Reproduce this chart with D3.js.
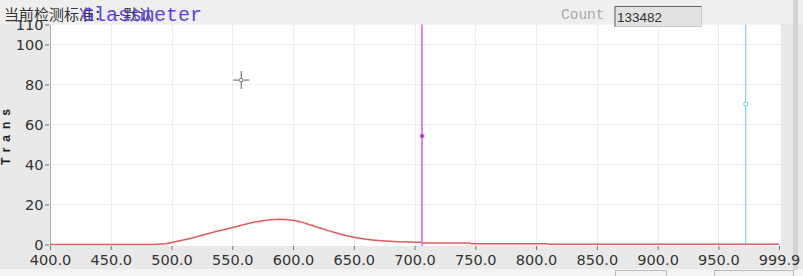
<!DOCTYPE html>
<html>
<head>
<meta charset="utf-8">
<script src="https://cdn.jsdelivr.net/npm/d3@7"></script>
<style>
  body { margin: 0; background: #e9e9e9; }
  svg { display: block; }
</style>
</head>
<body>
<script>
// spectrum: wavelength (nm) -> transmittance (%)
const wavelengths = [400, 480, 488, 495, 502, 510, 520, 535, 550, 565, 575, 582, 589, 596, 602, 610, 620, 631, 640, 650, 660, 667, 676, 686, 696, 705.5, 706.5, 745.5, 746.5, 809, 810, 999.9]
const trans = [0, 0, 0.1, 0.4, 1.2, 2.3, 3.8, 6.2, 8.5, 10.8, 11.9, 12.4, 12.6, 12.4, 11.9, 10.6, 8.6, 6.6, 5.0, 3.6, 2.6, 2.1, 1.7, 1.4, 1.2, 1.1, 0.7, 0.7, 0.4, 0.4, 0.15, 0.15]

const xTicks = [400, 450, 500, 550, 600, 650, 700, 750, 800, 850, 900, 950, 999.9]
const yTicks = [0, 20, 40, 60, 80, 100, 110]
const xGrid = [450, 500, 550, 600, 650, 700, 750, 800, 850, 900, 950]
const yGrid = [20, 40, 60, 80, 100]

// markers
const cursorPoint = {x: 557.4, y: 82.2}
const magentaMarker = {x: 706.1, y: 54.2}
const cyanMarker = {x: 972.5, y: 70.2}

const headerLabel = '当前检测标准：'
const headerValue = '默认'
const countValue = '133482'

const W = 803
const H = 276
const plot = {left: 50, right: 781, top: 24.5, bottom: 246}

const x = d3.scaleLinear().domain([400, 999.9]).range([50, 779])
const y = d3.scaleLinear().domain([0, 110]).range([244.5, 24.5])

const svg = d3.select('body').append('svg')
  .attr('width', W)
  .attr('height', H)

// window chrome
svg.append('rect').attr('width', W).attr('height', H).attr('fill', '#e9e9e9')
svg.append('rect').attr('width', W).attr('height', 24).attr('fill', '#efefef')
svg.append('rect').attr('x', 0).attr('y', 269).attr('width', W).attr('height', 7).attr('fill', '#f4f4f4')
svg.append('rect').attr('x', 793).attr('y', 0).attr('width', 5).attr('height', 270).attr('fill', '#d4d4d4')

// plot area
svg.append('rect')
  .attr('x', plot.left)
  .attr('y', plot.top)
  .attr('width', plot.right - plot.left)
  .attr('height', plot.bottom - plot.top)
  .attr('fill', '#fff')

const grid = svg.append('g').attr('class', 'grid')
grid.selectAll('.gx').data(xGrid).enter()
  .append('line')
  .attr('x1', d => Math.round(x(d)) + 0.5)
  .attr('x2', d => Math.round(x(d)) + 0.5)
  .attr('y1', plot.top)
  .attr('y2', plot.bottom)
  .attr('stroke', '#ececec')
grid.selectAll('.gy').data(yGrid).enter()
  .append('line')
  .attr('x1', plot.left)
  .attr('x2', plot.right)
  .attr('y1', d => y(d))
  .attr('y2', d => y(d))
  .attr('stroke', '#ececec')

svg.append('line')
  .attr('x1', plot.left + 0.5).attr('x2', plot.left + 0.5)
  .attr('y1', plot.top).attr('y2', plot.bottom)
  .attr('stroke', '#aaa')

// axes
const xAxis = d3.axisBottom(x)
  .tickValues(xTicks)
  .tickFormat(d3.format('.1f'))
  .tickSize(4)
  .tickPadding(4.5)

const yAxis = d3.axisLeft(y)
  .tickValues(yTicks)
  .tickFormat(d3.format('d'))
  .tickSize(4)
  .tickPadding(1.5)

const gx = svg.append('g')
  .attr('transform', `translate(0,${plot.bottom})`)
  .call(xAxis)
const gy = svg.append('g')
  .attr('transform', 'translate(49,0)')
  .call(yAxis)

;[gx, gy].forEach(g => {
  g.select('.domain').remove()
  g.selectAll('.tick line').attr('stroke', '#777')
  g.selectAll('.tick text')
    .attr('fill', '#333')
    .style('font-family', '"DejaVu Sans", sans-serif')
    .style('font-size', '14.5px')
})

svg.append('text')
  .attr('transform', 'translate(10,134) rotate(-90)')
  .attr('text-anchor', 'middle')
  .style('font-family', '"Liberation Sans", Arial, sans-serif')
  .style('font-size', '12px')
  .style('font-weight', 'bold')
  .style('letter-spacing', '6px')
  .attr('fill', '#222')
  .text('Trans')

// spectrum
const points = wavelengths.map((w, i) => ({x: w, y: trans[i]}))
const line = d3.line()
  .x(d => x(d.x))
  .y(d => y(d.y))
  .curve(d3.curveMonotoneX)

svg.append('path')
  .datum(points)
  .attr('d', line)
  .attr('fill', 'none')
  .attr('stroke', '#e05a5a')
  .attr('stroke-width', 1.5)

// markers
svg.append('line')
  .attr('x1', x(magentaMarker.x)).attr('x2', x(magentaMarker.x))
  .attr('y1', plot.top).attr('y2', plot.bottom)
  .attr('stroke', '#e26ce2')
  .attr('stroke-width', 1.7)
svg.append('circle')
  .attr('cx', x(magentaMarker.x))
  .attr('cy', y(magentaMarker.y))
  .attr('r', 2)
  .attr('fill', '#d020c8')

svg.append('line')
  .attr('x1', x(cyanMarker.x)).attr('x2', x(cyanMarker.x))
  .attr('y1', plot.top).attr('y2', plot.bottom)
  .attr('stroke', '#66c8e4')
  .attr('stroke-width', 1)
svg.append('circle')
  .attr('cx', x(cyanMarker.x))
  .attr('cy', y(cyanMarker.y))
  .attr('r', 2)
  .attr('fill', '#fff')
  .attr('stroke', '#66c8e4')

// crosshair cursor
const cx = x(cursorPoint.x)
const cy = y(cursorPoint.y)
const cross = svg.append('g').attr('stroke', '#777').attr('stroke-width', 1.2)
cross.append('line').attr('x1', cx - 8).attr('x2', cx - 2).attr('y1', cy).attr('y2', cy)
cross.append('line').attr('x1', cx + 2).attr('x2', cx + 8).attr('y1', cy).attr('y2', cy)
cross.append('line').attr('x1', cx).attr('x2', cx).attr('y1', cy - 9).attr('y2', cy - 2)
cross.append('line').attr('x1', cx).attr('x2', cx).attr('y1', cy + 2).attr('y2', cy + 9)
cross.append('rect').attr('x', cx - 1.5).attr('y', cy - 1.5).attr('width', 3).attr('height', 3)
  .attr('fill', 'none').attr('stroke-width', 0.8)

// header texts (the product name is drawn over the standard label, as on screen)
const header = svg.append('text')
  .attr('x', 4)
  .attr('y', 20)
  .attr('fill', '#333')
  .style('font-family', '"Noto Sans CJK SC", sans-serif')
  .style('font-size', '15px')
header.append('tspan').text(headerLabel)
header.append('tspan').attr('dx', 6).text('-')
header.append('tspan').attr('dx', 3).text(headerValue)

svg.append('text')
  .attr('x', 82)
  .attr('y', 21)
  .attr('fill', '#5a3ff0')
  .style('font-family', '"Liberation Mono", monospace')
  .style('font-size', '20px')
  .text('Glassmeter')

svg.append('text')
  .attr('x', 561)
  .attr('y', 19)
  .attr('fill', '#aaa')
  .style('font-family', '"Liberation Mono", monospace')
  .style('font-size', '14.5px')
  .text('Count')

svg.append('rect')
  .attr('x', 614.5).attr('y', 6.5)
  .attr('width', 87).attr('height', 20)
  .attr('fill', '#e2e2e2')
  .attr('stroke', '#ccc')
svg.append('path')
  .attr('d', 'M615,26.5V6.5H701.5')
  .attr('fill', 'none')
  .attr('stroke', '#666')
svg.append('text')
  .attr('x', 617)
  .attr('y', 21.5)
  .attr('fill', '#333')
  .style('font-family', '"Liberation Sans", Arial, sans-serif')
  .style('font-size', '13.5px')
  .text(countValue)

// cut-off input boxes at the bottom edge
svg.append('rect').attr('x', 615.5).attr('y', 270.5).attr('width', 51).attr('height', 10)
  .attr('fill', '#f2f2f2').attr('stroke', '#bbb')
svg.append('rect').attr('x', 714.5).attr('y', 270.5).attr('width', 79).attr('height', 10)
  .attr('fill', '#f2f2f2').attr('stroke', '#bbb')
</script>
</body>
</html>
